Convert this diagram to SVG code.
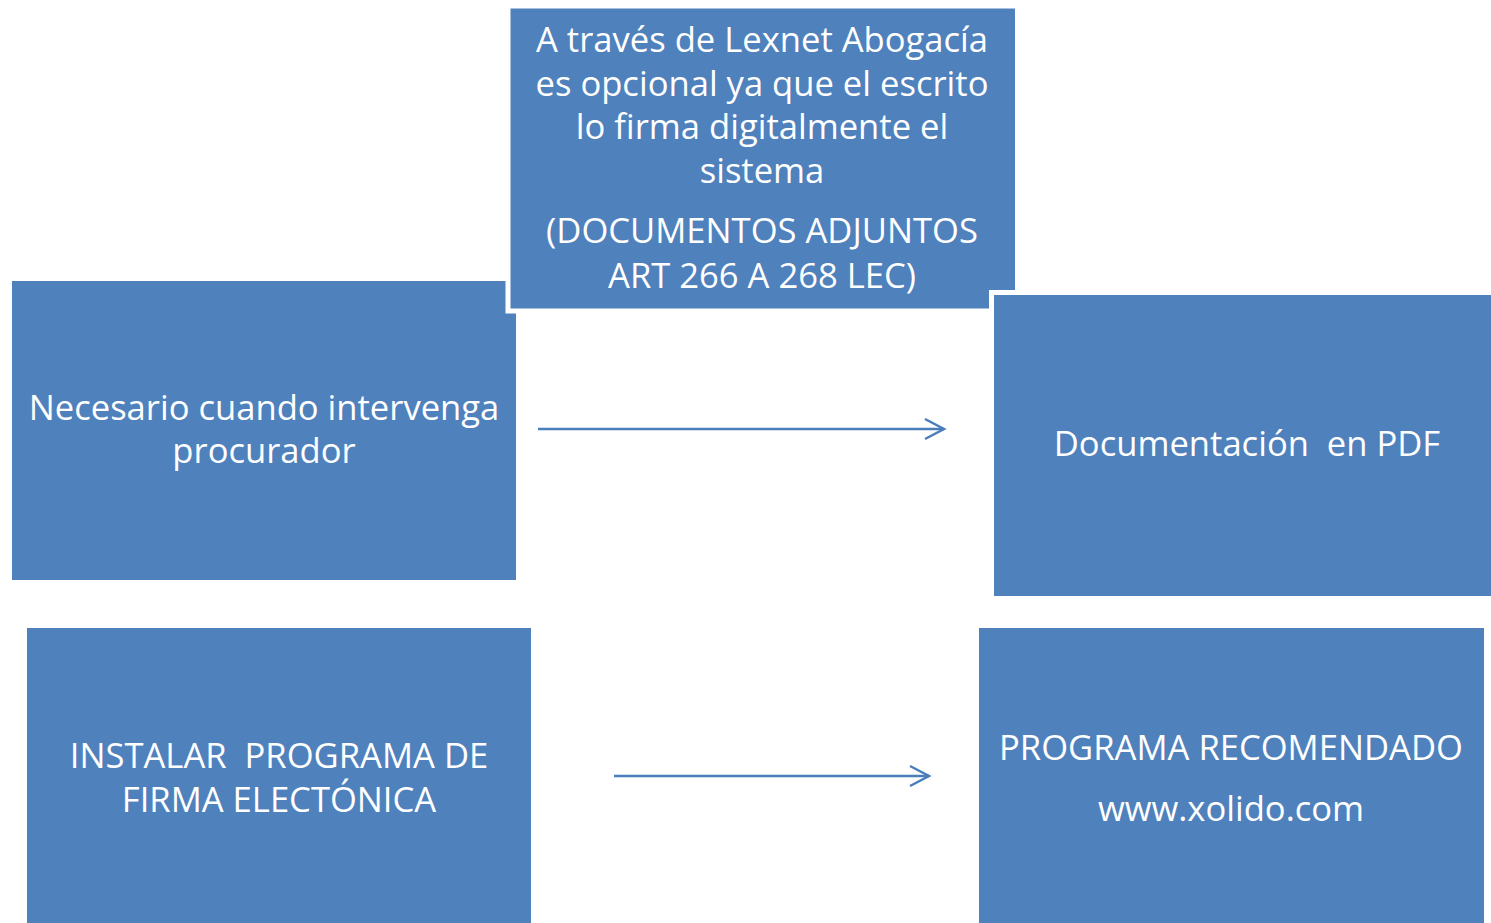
<svg xmlns="http://www.w3.org/2000/svg" width="1491" height="923" viewBox="0 0 1491 923">
<defs>
<style>
.box{fill:#4f81bd;stroke:#ffffff;stroke-width:5}
.t{fill:#ffffff;font-family:"Open Sans","Noto Sans",sans-serif;font-size:34.6px;text-anchor:middle;white-space:pre}
.c{stroke:#4a7ebb;stroke-width:2.5;fill:none}
</style>
<marker id="ah" markerWidth="24" markerHeight="24" refX="20" refY="10" orient="auto" markerUnits="userSpaceOnUse" viewBox="0 0 24 20">
<path d="M1 0 L20 10 L1 20" fill="none" stroke="#4a7ebb" stroke-width="2.5"/>
</marker>
</defs>
<rect x="0" y="0" width="1491" height="923" fill="#ffffff"/>
<g id="left-box">
<rect class="box" x="9.5" y="278.5" width="509" height="304"/>
<text class="t" x="264" y="420">Necesario cuando intervenga</text>
<text class="t" x="264" y="463">procurador</text>
</g>
<g id="top-box">
<rect class="box" x="508" y="6" width="509.5" height="305"/>
<text class="t" x="762" y="52">A través de Lexnet Abogacía</text>
<text class="t" x="762" y="96">es opcional ya que el escrito</text>
<text class="t" x="762" y="139">lo firma digitalmente el</text>
<text class="t" x="762" y="183">sistema</text>
<text class="t" x="762" y="243">(DOCUMENTOS ADJUNTOS</text>
<text class="t" x="762" y="288">ART 266 A 268 LEC)</text>
</g>
<g id="right-box">
<rect class="box" x="991.5" y="292.5" width="502" height="306"/>
<text class="t" x="1247" y="456" xml:space="preserve">Documentación  en PDF</text>
</g>
<g id="bottom-left-box">
<rect class="box" x="24.5" y="625.5" width="509" height="302"/>
<text class="t" x="279" y="768" xml:space="preserve">INSTALAR  PROGRAMA DE</text>
<text class="t" x="279" y="812">FIRMA ELECTÓNICA</text>
</g>
<g id="bottom-right-box">
<rect class="box" x="976.5" y="625.5" width="510" height="302"/>
<text class="t" x="1231" y="760">PROGRAMA RECOMENDADO</text>
<text class="t" x="1231" y="821">www.xolido.com</text>
</g>
<g id="connectors">
<line class="c" x1="538" y1="429" x2="944" y2="429" marker-end="url(#ah)"/>
<line class="c" x1="614" y1="776" x2="929" y2="776" marker-end="url(#ah)"/>
</g>
</svg>
